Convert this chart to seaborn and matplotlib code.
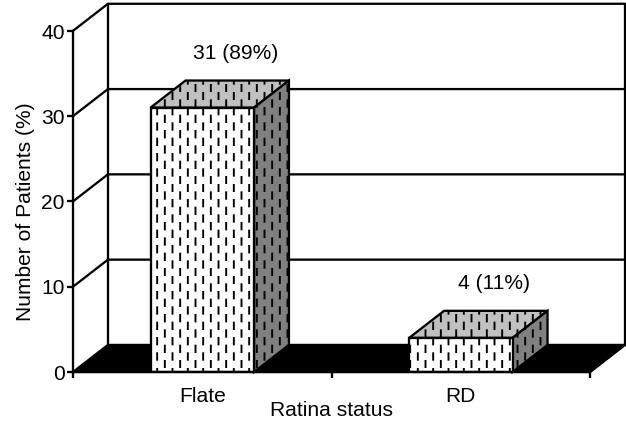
import matplotlib
matplotlib.use('Agg')
import matplotlib.pyplot as plt
import matplotlib.hatch as mhatch
from matplotlib.path import Path
from matplotlib.patches import Polygon
import seaborn as sns

# --- Dados ---
categorias = ['Flate', 'RD']
pacientes = [31, 4]
rotulos = ['31 (89%)', '4 (11%)']
y_ticks = [0, 10, 20, 30, 40]
rotulo_x = 'Ratina status'
rotulo_y = 'Number of Patients (%)'

# profundidade do efeito 3D, em unidades dos dados
DX = 0.135
DY = 3.17
LW = 1.8
DPI = 92
FONTE = 16.4  # 21 px a 92 dpi


# Hatch de tracinhos verticais alternados (o matplotlib nao tem esse padrao)
class TracosHatch(mhatch.HatchPatternBase):
    colunas = 12
    linhas = 6
    comprimento = 0.07

    def __init__(self, hatch, density):
        self.num_vertices = self.colunas * self.linhas * 2 if '|' in hatch else 0

    def set_vertices_and_codes(self, vertices, codes):
        i = 0
        for c in range(self.colunas):
            for l in range(self.linhas):
                x = (c + 0.5) / self.colunas
                y = (l + (0.25 if c % 2 else 0.75)) / self.linhas
                vertices[i] = (x, y - self.comprimento / 2)
                vertices[i + 1] = (x, y + self.comprimento / 2)
                codes[i] = Path.MOVETO
                codes[i + 1] = Path.LINETO
                i += 2


mhatch._hatch_types[:] = [TracosHatch]

sns.set_style('white')
plt.rcParams['font.family'] = ['Liberation Sans', 'DejaVu Sans']
plt.rcParams['hatch.linewidth'] = 1.5
plt.rcParams['hatch.color'] = '#222222'
plt.rcParams['text.color'] = 'black'
plt.rcParams['axes.labelcolor'] = 'black'
plt.rcParams['xtick.color'] = 'black'
plt.rcParams['ytick.color'] = 'black'

fig = plt.figure(figsize=(626.2 / DPI, 423.2 / DPI), dpi=DPI)
ax = fig.add_axes([73 / 626, 51 / 423, 517 / 626, 341 / 423])

sns.barplot(x=categorias, y=pacientes, color='white', saturation=1, width=0.4,
            edgecolor='black', linewidth=LW, hatch='|', zorder=5, ax=ax)

ax.set_xlim(-0.5, 1.5)
ax.set_ylim(0, 40)
x0, x1 = ax.get_xlim()

# chao preto
ax.add_patch(Polygon([(x0, 0), (x0 + DX, DY), (x1 + DX, DY), (x1, 0)], closed=True,
                     facecolor='black', edgecolor='black', lw=LW, clip_on=False, zorder=2))

# parede do fundo e parede esquerda
for t in y_ticks[1:]:
    ax.plot([x0, x0 + DX, x1 + DX], [t, t + DY, t + DY], color='black', lw=LW,
            clip_on=False, zorder=2, solid_joinstyle='miter')
ax.plot([x0 + DX, x0 + DX], [DY, 40 + DY], color='black', lw=LW, clip_on=False, zorder=2)
ax.plot([x1 + DX, x1 + DX], [DY, 40 + DY], color='black', lw=LW, clip_on=False, zorder=2)

# faces de cima e do lado de cada barra
for barra, rotulo in zip(ax.patches[:len(categorias)], rotulos):
    esq = barra.get_x()
    dir_ = esq + barra.get_width()
    topo = barra.get_height()
    ax.add_patch(Polygon([(esq, topo), (esq + DX, topo + DY), (dir_ + DX, topo + DY), (dir_, topo)],
                         closed=True, facecolor='#c0c0c0', edgecolor='black', lw=LW, hatch='|',
                         clip_on=False, zorder=4))
    ax.add_patch(Polygon([(dir_, 0), (dir_ + DX, DY), (dir_ + DX, topo + DY), (dir_, topo)],
                         closed=True, facecolor='#808080', edgecolor='black', lw=LW, hatch='|',
                         clip_on=False, zorder=4))
    ax.annotate(rotulo, xy=(barra.get_x() + barra.get_width() / 2 + DX, topo + DY),
                xytext=(-1.5, 21.7), textcoords='offset points', ha='center', va='center',
                fontsize=FONTE, zorder=6)

# eixos
for lado in ['top', 'right']:
    ax.spines[lado].set_visible(False)
for lado in ['left', 'bottom']:
    ax.spines[lado].set_linewidth(LW)
    ax.spines[lado].set_color('black')
    ax.spines[lado].set_zorder(7)

ax.set_yticks(y_ticks)
ax.tick_params(axis='y', which='major', left=True, length=4.5, width=LW, labelsize=FONTE, pad=2)
ax.set_xticks([0, 1])
ax.set_xticklabels(categorias)
ax.set_xticks([-0.5, 0.5, 1.5], minor=True)
ax.tick_params(axis='x', which='major', bottom=False, labelsize=FONTE, pad=8)
ax.tick_params(axis='x', which='minor', bottom=True, length=5, width=LW)
ax.set_xlabel(rotulo_x, fontsize=FONTE, labelpad=-4)
ax.set_ylabel(rotulo_y, fontsize=FONTE, labelpad=5, y=0.469)

fig.savefig('out.png', dpi=DPI)
